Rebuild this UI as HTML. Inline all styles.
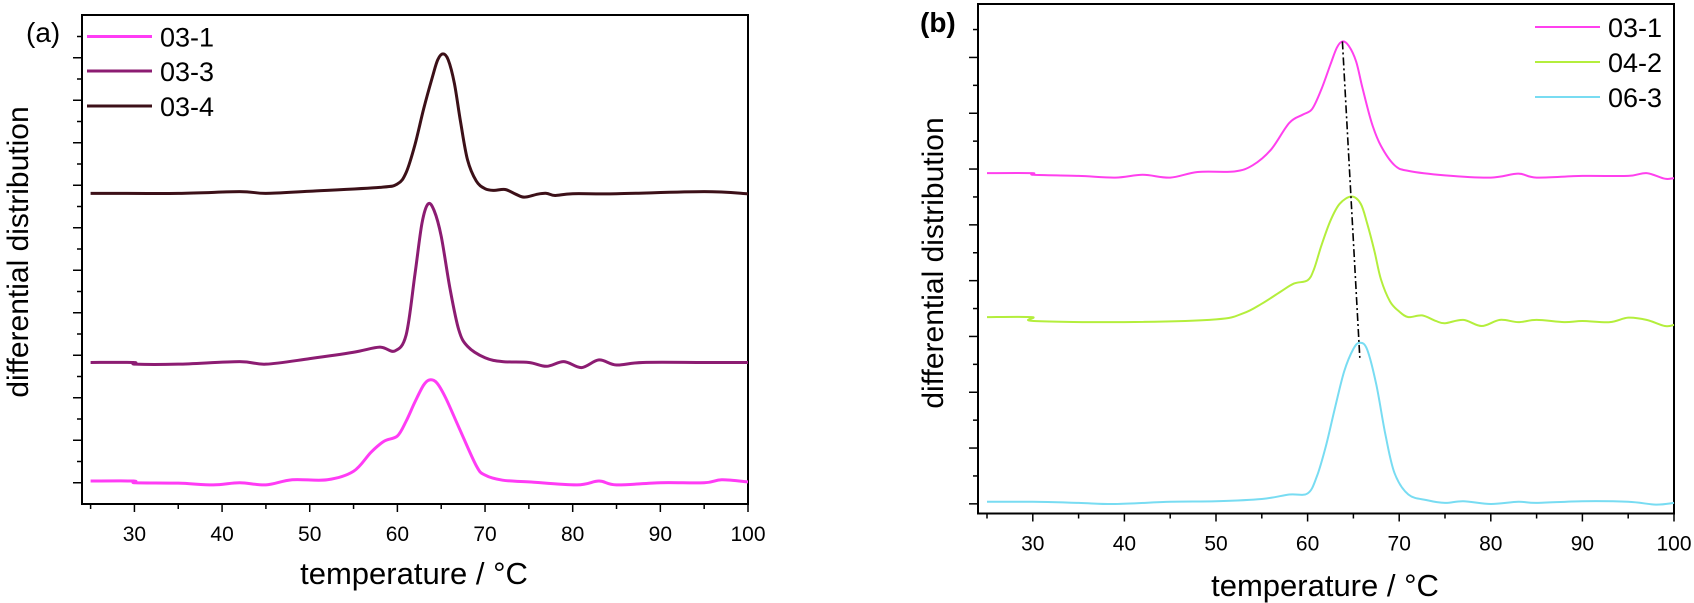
<!DOCTYPE html>
<html><head><meta charset="utf-8"><style>
html,body{margin:0;padding:0;background:#fff;}
svg{display:block;font-family:"Liberation Sans",sans-serif;}
</style></head><body>
<svg id="fig" width="1694" height="603" viewBox="0 0 1694 603"></svg>
<script>
// ---- data panel (a) ----
const aTemps031 = [25,29.9,30.1,35,39,42,45,48,52,55,57,58.5,60,61,62,63,63.7,64.5,65.5,67,69,70,72,75,80.5,83,85,90,95,97,100];
const aVals031  = [0.54,0.54,0.5,0.49,0.45,0.5,0.45,0.57,0.57,0.77,1.22,1.48,1.6,1.95,2.4,2.8,2.92,2.85,2.5,1.81,0.9,0.68,0.56,0.52,0.45,0.54,0.45,0.5,0.5,0.57,0.52];
const aTemps033 = [25,29.9,30.1,35,42,45,50,55,58,59.7,61,62,62.8,63.5,64.2,65,66,67,68,70,72,75,77,79,81,83,85,88,95,100];
const aVals033  = [3.33,3.33,3.29,3.29,3.35,3.29,3.42,3.57,3.69,3.6,3.98,5.4,6.6,7.06,6.9,6.3,5.07,4.1,3.71,3.44,3.35,3.33,3.24,3.35,3.21,3.39,3.27,3.33,3.33,3.33];
const aTemps034 = [25,35,42,45,50,58,60,61,62,63,64,64.6,65.2,65.8,66.5,67.2,68,69,70,71,72.3,73.5,74.5,76,77,78,80,85,95,100];
const aVals034  = [7.31,7.31,7.35,7.31,7.36,7.45,7.53,7.8,8.45,9.3,10.05,10.45,10.59,10.45,9.9,9.0,8.1,7.6,7.42,7.38,7.4,7.29,7.22,7.29,7.31,7.26,7.3,7.3,7.35,7.3];
// ---- data panel (b) ----
const bTemps031 = [25,29.9,30.1,35,39,42,45,48,52,54,56,58,59.5,60.5,61.5,62.5,63.2,63.8,64.5,65.3,66,67,68,69.5,71,75,80,83,85,90,95,97,99,100];
const bVals031  = [6.1,6.1,6.07,6.05,6.02,6.07,6.02,6.12,6.13,6.24,6.52,7.0,7.15,7.25,7.6,8.05,8.35,8.46,8.38,8.1,7.62,7.0,6.59,6.24,6.14,6.06,6.02,6.09,6.02,6.05,6.05,6.1,6.0,6.01];
const bTemps042 = [25,29.9,30.1,40,50,53,55,57,58.5,60,60.7,61.5,62.5,63.5,64.8,65.8,66.5,67.3,68,69,70,71,72.5,74,75,77,79,81,83,85,88,90,93,95,97,99,100];
const bVals042  = [3.52,3.52,3.45,3.43,3.48,3.59,3.76,3.97,4.12,4.18,4.38,4.8,5.25,5.55,5.68,5.55,5.2,4.7,4.2,3.8,3.62,3.52,3.55,3.45,3.41,3.47,3.36,3.47,3.43,3.47,3.43,3.45,3.43,3.51,3.47,3.36,3.38];
const bTemps063 = [25,30,35,39,45,50,55,58,60,61,62,63,64,65,65.7,66.5,67.5,68.5,69.5,71,73,75,77,80,83,85,90,95,98,100];
const bVals063  = [0.21,0.21,0.19,0.17,0.21,0.22,0.26,0.34,0.36,0.66,1.21,1.9,2.55,2.95,3.06,2.94,2.31,1.41,0.72,0.34,0.24,0.19,0.22,0.17,0.21,0.19,0.22,0.21,0.16,0.19];
const bPeakTemps = [63.8,65.7];
const bPeakVals  = [8.46,2.79];
const xTicks = [30,40,50,60,70,80,90,100];

const NS="http://www.w3.org/2000/svg";
const svg=document.getElementById('fig');
function mk(tag,attrs,parent){const e=document.createElementNS(NS,tag);for(const k in attrs)e.setAttribute(k,attrs[k]);(parent||svg).appendChild(e);return e;}

function panel(P){
  const g=mk('g',{});
  
  
  const X=t=>P.x0+(t-25)*(P.x1-P.x0)/75;
  const Y=v=>P.yb-v*P.unit;
  const fr=mk('rect',{x:P.left,y:P.top,width:P.x1-P.left,height:P.yb-P.top,fill:'none',stroke:'#000','stroke-width':2},g);
  
  
  for(let t=25;t<=100;t+=5){
    const maj=(t%10===0);
    const tk=mk('line',{x1:X(t),x2:X(t),y1:P.yb,y2:P.yb+(maj?8:5),stroke:'#000','stroke-width':1.5},g);
    
    
  }
  xTicks.forEach(t=>{
    const tl=mk('text',{x:X(t),y:P.yb+37,'font-size':21,'text-anchor':'middle'},g);
    tl.textContent=t;
    
    
  });
  for(let v=P.ymajStart;;v+=0.5){
    const y=Y(v); if(y<P.top+2)break;
    const maj=Math.abs(v-Math.round(v-P.ymajStart)-P.ymajStart)<1e-6;
    const tk=mk('line',{x1:P.left,x2:P.left-(maj?9:5),y1:y,y2:y,stroke:'#000','stroke-width':1.5},g);
    
    
  }
  const xt=mk('text',{x:P.xtx,y:P.xty,'font-size':31,'text-anchor':'middle'},g);
  xt.textContent='temperature / °C';
  
  
  const yt=mk('text',{x:0,y:0,'font-size':30,'text-anchor':'middle',transform:`translate(${P.ytx},${P.yty}) rotate(-90)`},g);
  yt.textContent='differential distribution';
  
  
  const pl=mk('text',{x:P.lblx,y:P.lbly,'font-size':28,'font-weight':P.bold?'bold':'normal'},g);
  pl.textContent=P.label;
  
  
  P.series.forEach((s,i)=>{
    const pts=s.t.map((t,k)=>[X(t),Y(s.v[k])]);
    let d='M'+pts[0][0]+','+pts[0][1];
    for(let k=0;k<pts.length-1;k++){
      const p0=pts[Math.max(0,k-1)],p1=pts[k],p2=pts[k+1],p3=pts[Math.min(pts.length-1,k+2)];
      const c1=[p1[0]+(p2[0]-p0[0])/6,p1[1]+(p2[1]-p0[1])/6];
      const c2=[p2[0]-(p3[0]-p1[0])/6,p2[1]-(p3[1]-p1[1])/6];
      d+=` C${c1[0]},${c1[1]} ${c2[0]},${c2[1]} ${p2[0]},${p2[1]}`;
    }
    const path=mk('path',{d:d,fill:'none',stroke:s.c,'stroke-width':P.lw,'stroke-linejoin':'round'},g);
    
    
    const ly=P.legY[i];
    const ll=mk('line',{x1:P.legX0,x2:P.legX1,y1:ly,y2:ly,stroke:s.c,'stroke-width':P.lw},g);
    
    
    const lt=mk('text',{x:P.legX1+8,y:ly+10,'font-size':27},g);
    lt.textContent=s.n;
    
    
  });
  if(P.peak){
    const pk=mk('line',{x1:X(P.peak.t[0]),y1:Y(P.peak.v[0]),x2:X(P.peak.t[1]),y2:Y(P.peak.v[1]),stroke:'#000','stroke-width':1.6,'stroke-dasharray':'8,3,2,3'},g);
    
    
  }
}

panel({name:'panel-a',left:82,top:15,x0:90.6,x1:748,yb:504,unit:42.5,ymajStart:0.5,lw:3,
  xtx:414,xty:584,ytx:28,yty:252,lblx:26,lbly:42,label:'(a)',bold:false,
  legX0:87,legX1:152,legY:[36.5,71,106],
  series:[{n:'03-1',c:'#ff3cf5',t:aTemps031,v:aVals031},
          {n:'03-3',c:'#8c1c72',t:aTemps033,v:aVals033},
          {n:'03-4',c:'#3c1018',t:aTemps034,v:aVals034}]});
panel({name:'panel-b',left:978,top:4,x0:987,x1:1674,yb:513.5,unit:55.8,ymajStart:0.173,lw:2,
  xtx:1325,xty:596,ytx:943,yty:263,lblx:920,lbly:32,label:'(b)',bold:true,
  legX0:1535,legX1:1600,legY:[27,62,97],
  peak:{t:bPeakTemps,v:bPeakVals},
  series:[{n:'03-1',c:'#ff40ee',t:bTemps031,v:bVals031},
          {n:'04-2',c:'#b4ee3c',t:bTemps042,v:bVals042},
          {n:'06-3',c:'#78dcf2',t:bTemps063,v:bVals063}]});
</script>
</body></html>
